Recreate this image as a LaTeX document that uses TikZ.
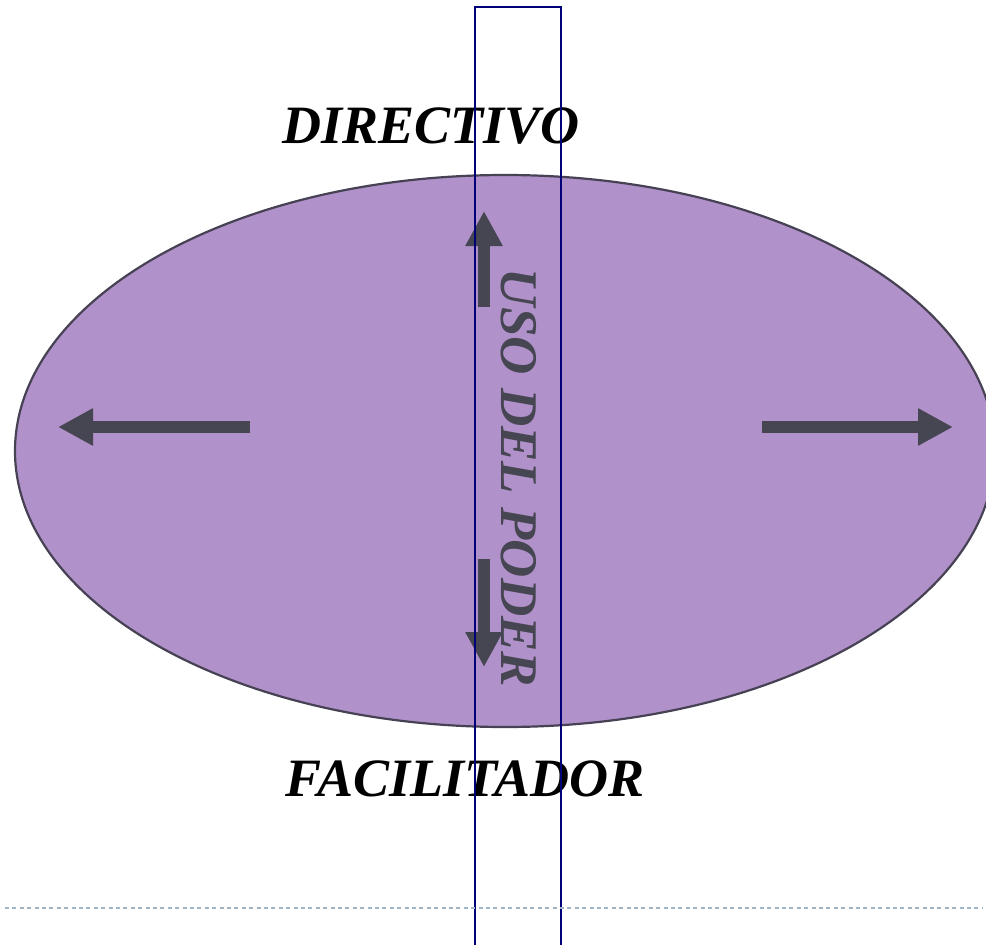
\documentclass[tikz,border=0pt]{standalone}
\usepackage{fontspec}
\setmainfont{Liberation Serif}
\usetikzlibrary{shapes.geometric, arrows.meta, positioning}

\definecolor{poderfill}{RGB}{177,145,202}
\definecolor{poderline}{RGB}{70,66,84}
\definecolor{flecha}{RGB}{70,70,82}
\definecolor{marco}{RGB}{0,0,120}
\definecolor{guia}{RGB}{160,180,200}

\begin{document}
\begin{tikzpicture}[
    x=1pt, y=-1pt,
    titulo/.style={font=\fontsize{54}{60}\selectfont\bfseries\itshape, text=black, inner sep=0pt, anchor=base},
    eje/.style={font=\fontsize{53}{58}\selectfont\bfseries\itshape, text=flecha, inner sep=0pt, rotate=-90},
    flechota/.style={-{Triangle[width=35pt, length=35pt]}, line width=12pt, draw=flecha}
]
\useasboundingbox (0,0) rectangle (986,945);
\clip (0,0) rectangle (986,945);

% elipse central
\node[ellipse, draw=poderline, line width=2.2pt, fill=poderfill, inner sep=0pt,
      minimum width=980pt, minimum height=552pt] (uso) at (505,451) {};

% flechas
\coordinate (arribaA) at (484,307);
\coordinate (arribaB) at (484,211);
\coordinate (abajoA) at (484,559);
\coordinate (abajoB) at (484,667);
\coordinate (izqA) at (250,427);
\coordinate (izqB) at (58,427);
\coordinate (derA) at (762,427);
\coordinate (derB) at (953,427);
\draw[flechota] (arribaA) -- (arribaB);
\draw[flechota] (abajoA) -- (abajoB);
\draw[flechota] (izqA) -- (izqB);
\draw[flechota] (derA) -- (derB);

% textos
\node[titulo] (directivo) at (431,143) {DIRECTIVO};
\node[titulo] (facilitador) at (465,796) {FACILITADOR};
\node[eje] (poder) at (519,478) {USO DEL PODER};

% marco vertical y guia
\draw[marco, line width=2.2pt] (475,7) rectangle (561,970);
\draw[guia, line width=2pt, dash pattern=on 4pt off 3.4pt] (5,908) -- (982,908);
\end{tikzpicture}
\end{document}
